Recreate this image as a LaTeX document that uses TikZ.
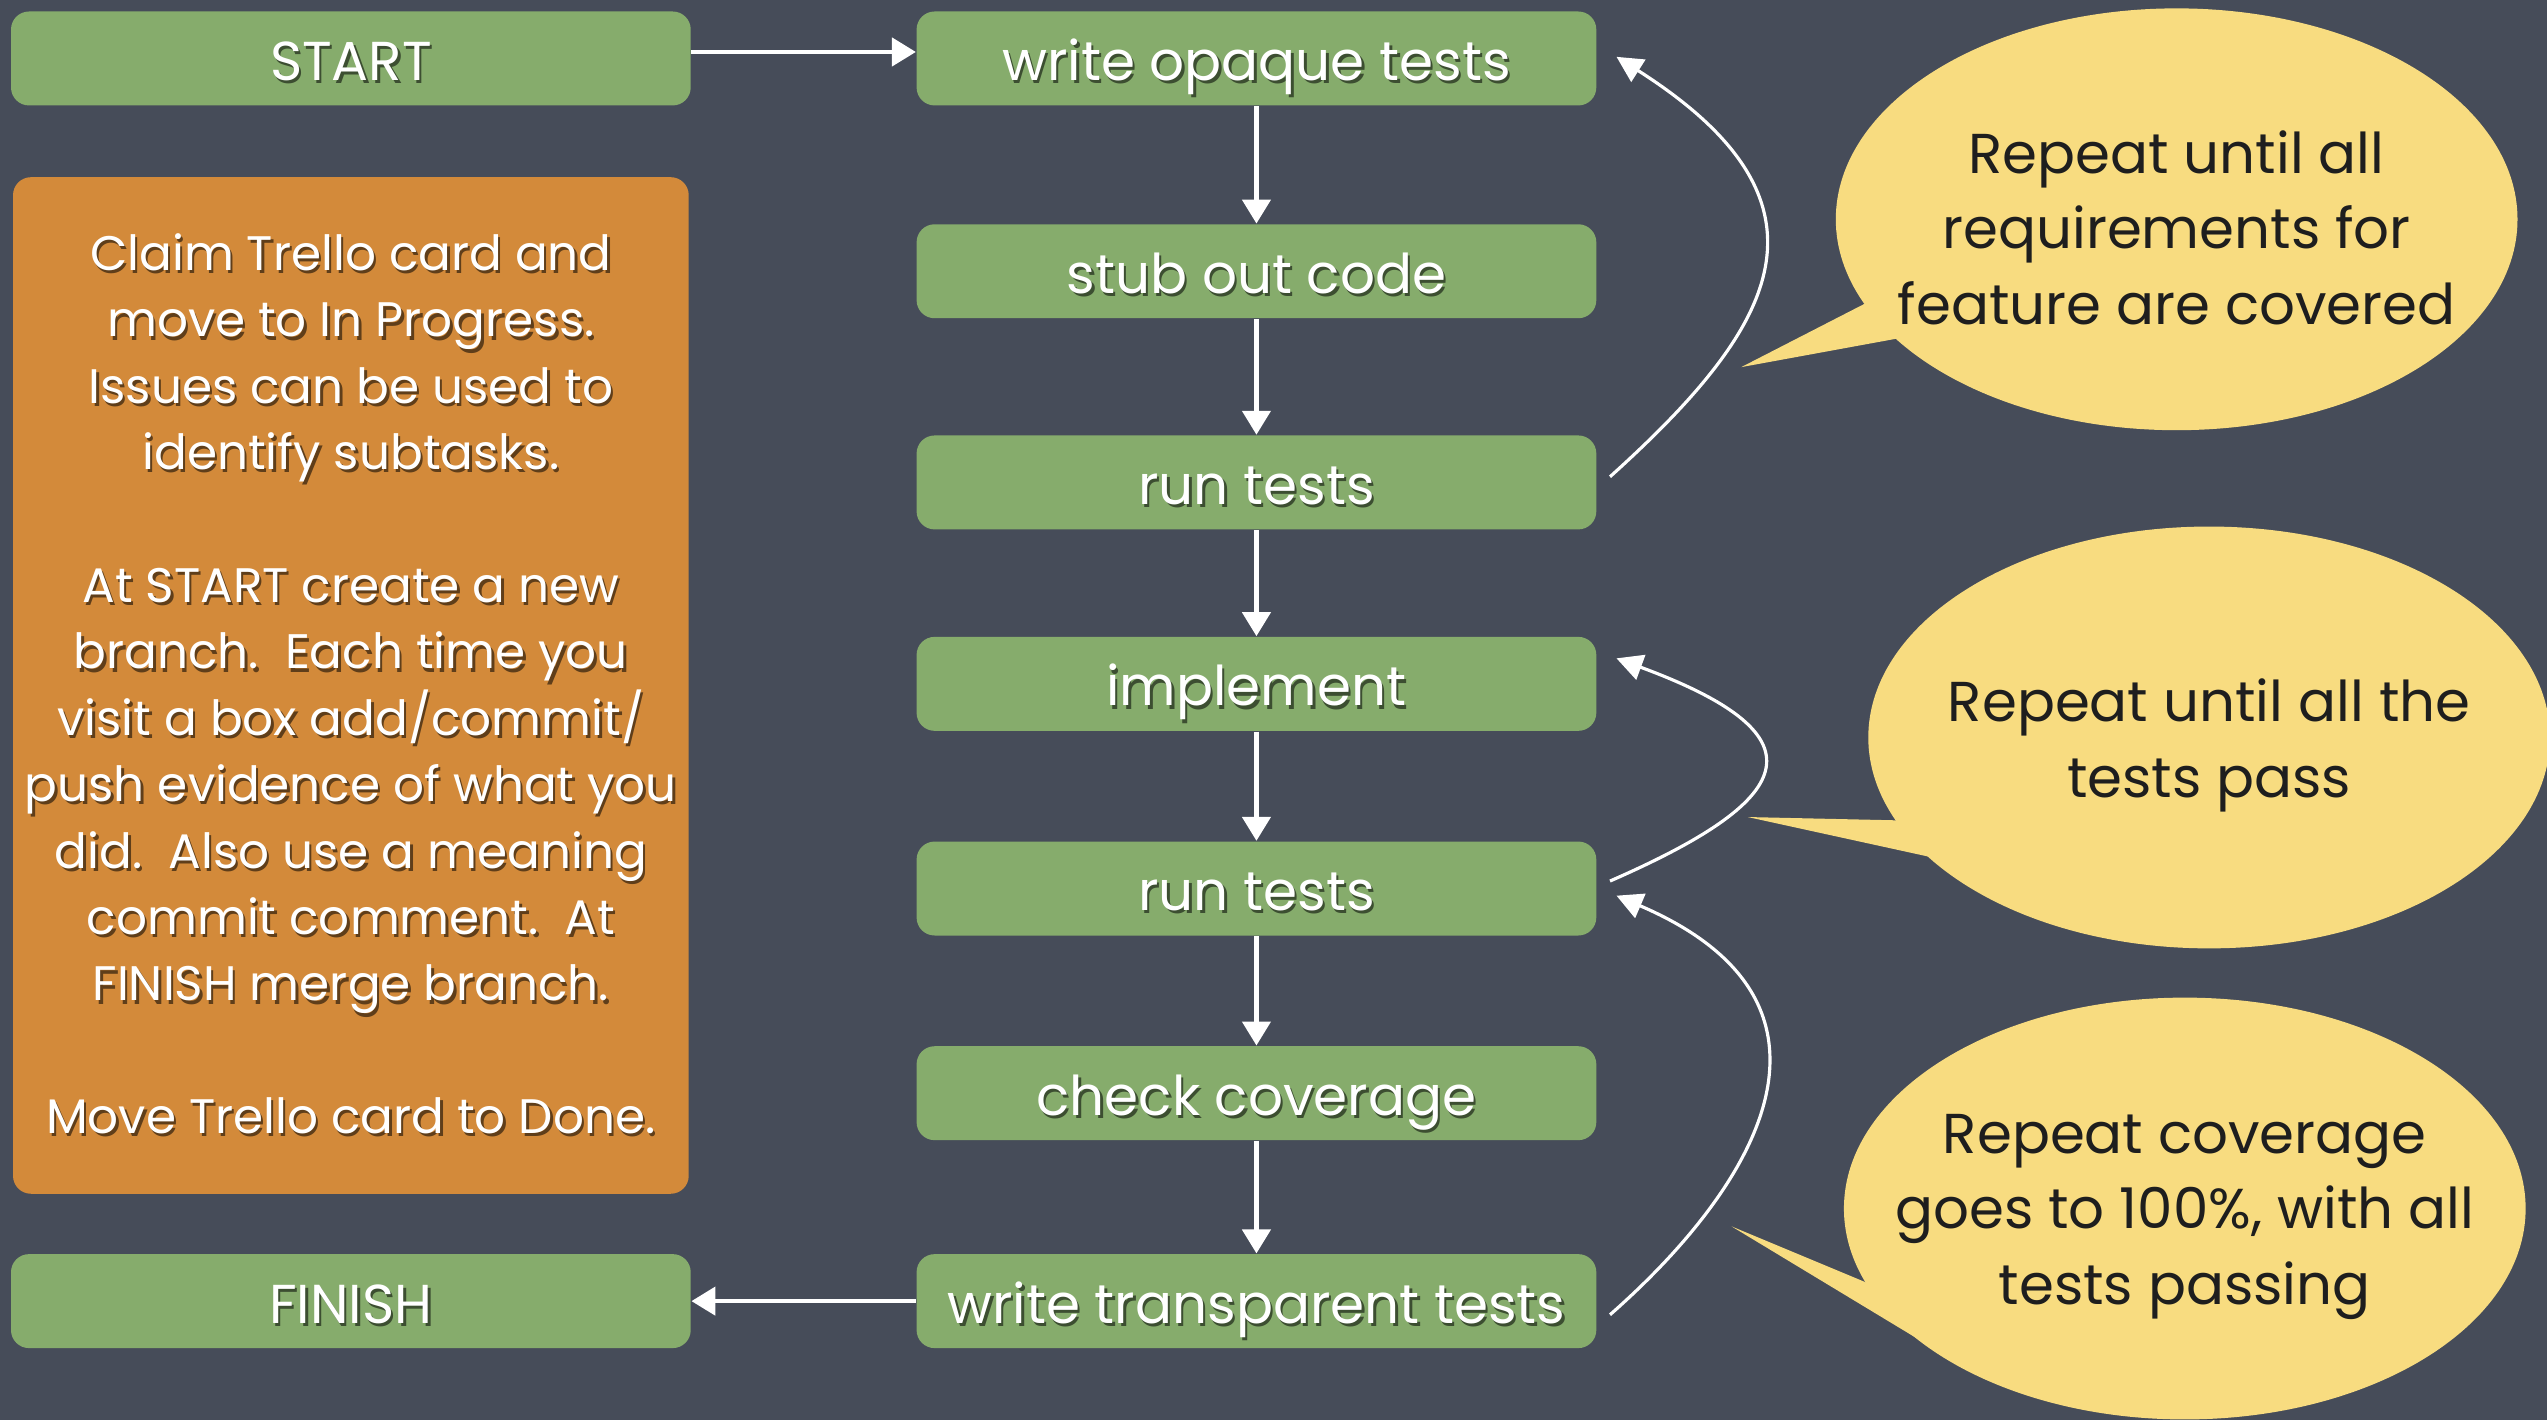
\documentclass[tikz,border=0pt]{standalone}
\usepackage{fontspec}
\setmainfont{Poppins}
\usetikzlibrary{arrows.meta,calc}
\definecolor{board}{RGB}{70,76,89}
\definecolor{boxgreen}{RGB}{134,172,108}
\definecolor{cardorange}{RGB}{211,138,58}
\definecolor{bubblefill}{RGB}{248,220,128}
\definecolor{ink}{RGB}{30,30,30}
\colorlet{shadowc}{black}
\newcommand\sh[1]{\leavevmode\rlap{\hspace{0.7pt}\raisebox{-0.9pt}{\color{shadowc}#1}}#1}
\begin{document}
\begin{tikzpicture}[x=0.016244cm,y=-0.016244cm,
  stepbox/.style={fill=boxgreen, rounded corners=0.18cm, minimum width=6.8cm,
    minimum height=0.94cm, inner sep=0pt, text=white, text height=12.6pt, text depth=0pt,
    font=\fontsize{15.6}{18}\selectfont\colorlet{shadowc}{boxgreen!45!black}},
  card/.style={fill=cardorange, rounded corners=0.18cm, minimum width=6.76cm,
    minimum height=10.17cm, inner sep=0pt, text=white, align=center,
    font=\fontsize{13.8}{18.9}\selectfont\colorlet{shadowc}{cardorange!45!black}},
  bubble/.style={fill=bubblefill},
  bubbletext/.style={inner sep=0pt, text=ink, align=center, font=\fontsize{16}{21.5}\selectfont},
  flow/.style={draw=white, line width=1.3pt, -{Triangle[width=0.28cm,length=0.24cm]}},
  loopback/.style={draw=white, line width=0.9pt, -{Triangle[width=0.26cm,length=0.26cm]}}]

\useasboundingbox (0,0) rectangle (1568,874);
\clip (0,0) rectangle (1568,874);
\fill[board] (0,0) rectangle (1568,874);

% steps
\node[stepbox] (start)  at (216,36)    {\sh{START}};
\node[stepbox] (wo)     at (773.5,36)  {\sh{write opaque tests}};
\node[stepbox] (stub)   at (773.5,167) {\sh{stub out code}};
\node[stepbox] (rt1)    at (773.5,297) {\sh{run tests}};
\node[stepbox] (impl)   at (773.5,421) {\sh{implement}};
\node[stepbox] (rt2)    at (773.5,547) {\sh{run tests}};
\node[stepbox] (cov)    at (773.5,673) {\sh{check coverage}};
\node[stepbox] (wt)     at (773.5,801) {\sh{write transparent tests}};
\node[stepbox] (finish) at (216,801)   {\sh{FINISH}};

% instruction card
\node[card] (card) at (216,422) {%
\sh{Claim Trello card and}\\
\sh{move to In Progress.}\\
\sh{Issues can be used to}\\
\sh{identify subtasks.}\\
~\\
\sh{At START create a new}\\
\sh{branch.\ \ Each time you}\\
\sh{visit a box add/commit/}\\
\sh{push evidence of what you}\\
\sh{did.\ \ Also use a meaning}\\
\sh{commit comment.\ \ At}\\
\sh{FINISH merge branch.}\\
~\\
\sh{Move Trello card to Done.}};

% speech bubbles
\fill[bubble] (1072,226) -- (1183,169) -- (1214,200) -- cycle;
\fill[bubble] (1340,135) ellipse [x radius=3.41cm, y radius=2.11cm];
\node[bubbletext] (b1) at (1340,140) {Repeat until all\\requirements for\\feature are covered};
\fill[bubble] (1076,503) -- (1212,506) -- (1245,540) -- cycle;
\fill[bubble] (1360,454) ellipse [x radius=3.41cm, y radius=2.11cm];
\node[bubbletext] (b2) at (1360,459) {Repeat until all the\\tests pass};
\fill[bubble] (1066,755) -- (1198,810) -- (1205,839) -- cycle;
\fill[bubble] (1345,744) ellipse [x radius=3.41cm, y radius=2.11cm];
\node[bubbletext] (b3) at (1345,749) {Repeat coverage\\goes to 100\%, with all\\tests passing};

% flow arrows
\draw[flow] ($(start.east)+(0,-4)$) -- ($(wo.west)+(0,-4)$);
\draw[flow] (wo) -- (stub);
\draw[flow] (stub) -- (rt1);
\draw[flow] (rt1) -- (impl);
\draw[flow] (impl) -- (rt2);
\draw[flow] (rt2) -- (cov);
\draw[flow] (cov) -- (wt);
\draw[flow] (wt) -- (finish);

% loop-back arrows
\draw[loopback] ($(rt1.east)+(8,-3.5)$) .. controls +(102,-92) and +(143,91) .. ($(wo.east)+(12,-1)$);
\draw[loopback] ($(rt2.east)+(8,-4.6)$) .. controls +(112,-49) and +(133,49) .. ($(impl.east)+(12,-15.7)$);
\draw[loopback] ($(wt.east)+(8,8.4)$) .. controls +(91,-80) and +(154,66) .. ($(rt2.east)+(12,4.4)$);
\end{tikzpicture}
\end{document}
